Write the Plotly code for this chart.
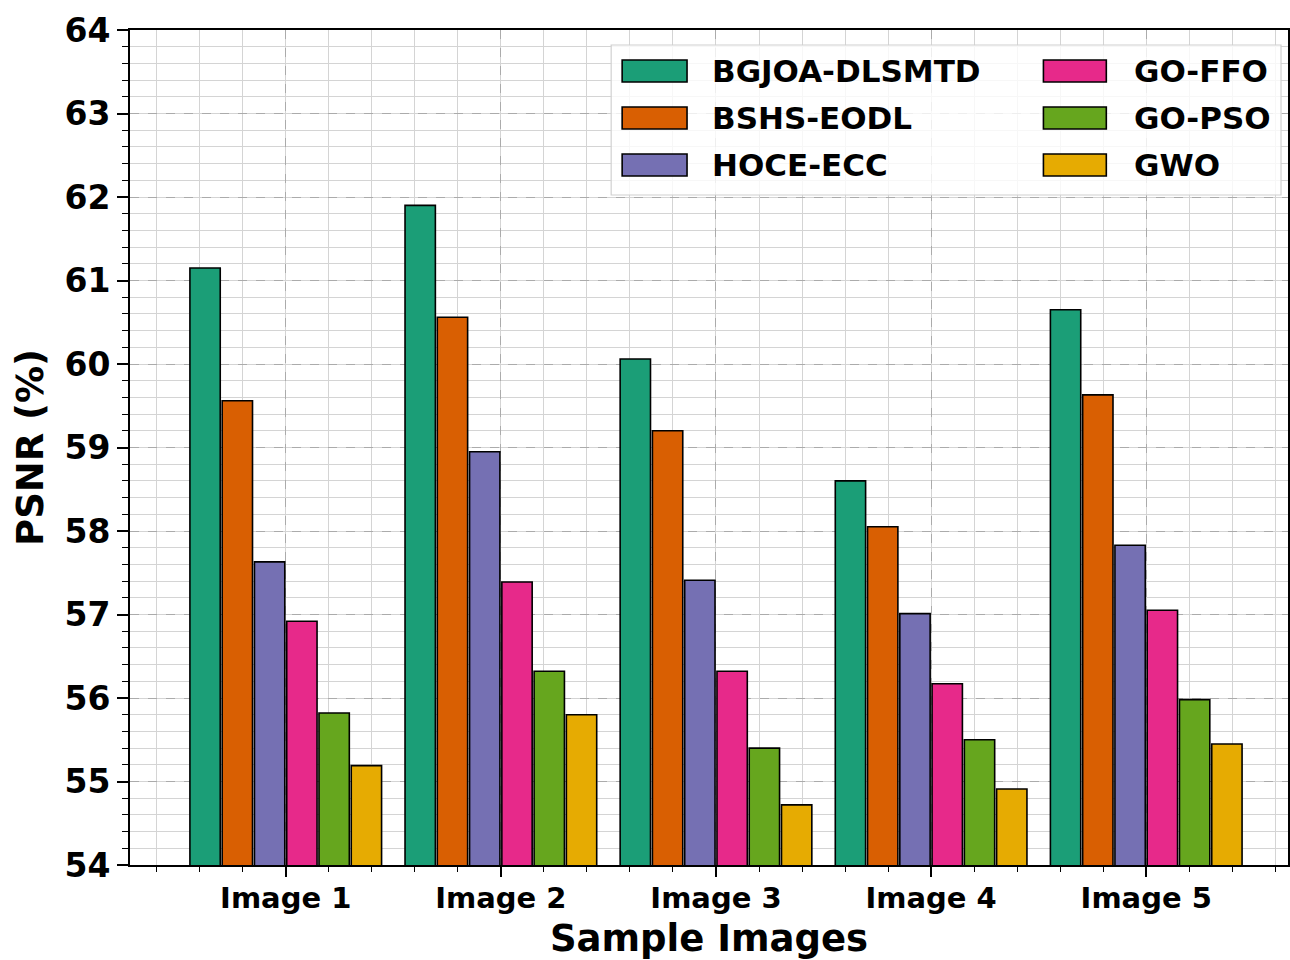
import plotly.graph_objects as go

categories = ["Image 1", "Image 2", "Image 3", "Image 4", "Image 5"]
series_names = ["BGJOA-DLSMTD", "BSHS-EODL", "HOCE-ECC", "GO-FFO", "GO-PSO", "GWO"]
bgjoa_dlsmtd = [61.15, 61.90, 60.06, 58.60, 60.65]
bshs_eodl = [59.56, 60.56, 59.20, 58.05, 59.63]
hoce_ecc = [57.63, 58.95, 57.41, 57.01, 57.83]
go_ffo = [56.92, 57.39, 56.32, 56.17, 57.05]
go_pso = [55.82, 56.32, 55.40, 55.50, 55.98]
gwo = [55.19, 55.80, 54.72, 54.91, 55.45]
colors = ["#1b9e77", "#d95f02", "#7570b3", "#e7298a", "#66a61e", "#e6ab02"]
y_ticks = [54, 55, 56, 57, 58, 59, 60, 61, 62, 63, 64]

series_values = [bgjoa_dlsmtd, bshs_eodl, hoce_ecc, go_ffo, go_pso, gwo]
xpos = list(range(len(categories)))

W, H = 1290, 960
L, R, T, B = 130, 0, 30, 95
PW, PH = W - L - R, H - T - B

def px(x):
    return (x - L) / PW

def py(y):
    return (H - B - y) / PH

FONT = "DejaVu Sans"

fig = go.Figure()
for name, vals, col in zip(series_names, series_values, colors):
    fig.add_trace(go.Bar(
        x=xpos, y=vals, name=name, showlegend=False,
        marker=dict(color=col, line=dict(color="black", width=1.6)),
    ))

# manual legend (two columns, wide patches like the reference)
shapes = [dict(type="rect", xref="paper", yref="paper", layer="above",
               x0=px(612), x1=px(1283), y0=py(195), y1=py(45),
               fillcolor="rgba(255,255,255,0.8)", line=dict(color="#d0d0d0", width=1.2))]
annotations = []
row_y = [71, 118, 165]
for i, (name, col) in enumerate(zip(series_names, colors)):
    c, r = divmod(i, 3)
    sx0, sx1, tx = (623, 688, 711) if c == 0 else (1045, 1108, 1134)
    yc = row_y[r]
    shapes.append(dict(type="rect", xref="paper", yref="paper", layer="above",
                       x0=px(sx0), x1=px(sx1), y0=py(yc + 11), y1=py(yc - 11),
                       fillcolor=col, line=dict(color="black", width=1.6)))
    annotations.append(dict(xref="paper", yref="paper", x=px(tx), y=py(yc),
                            xanchor="left", yanchor="middle", showarrow=False,
                            text=name, font=dict(family=FONT, size=31, color="black", weight="bold")))

fig.update_layout(
    width=W, height=H,
    margin=dict(l=L, r=R, t=T, b=B, pad=0),
    paper_bgcolor="white", plot_bgcolor="white",
    barmode="group", bargap=0.1, bargroupgap=0.06,
    shapes=shapes, annotations=annotations,
    font=dict(family=FONT, color="black"),
)
fig.update_xaxes(
    range=[-0.724, 4.659],
    tickmode="array", tickvals=xpos, ticktext=categories,
    tickfont=dict(family=FONT, size=29, color="black", weight="bold"),
    ticks="outside", ticklen=10, tickwidth=1.5, tickcolor="black",
    ticklabelstandoff=-4,
    showline=True, linecolor="black", linewidth=1.8, mirror=True,
    showgrid=True, gridcolor="#ababab", gridwidth=1.2, griddash="dash",
    minor=dict(dtick=0.2, tick0=0, ticks="outside", ticklen=5, tickwidth=1.2,
               tickcolor="black", showgrid=True, gridcolor="#d4d4d4", gridwidth=1,
               griddash="solid"),
    title=dict(text="Sample Images", standoff=11,
               font=dict(family=FONT, size=37, color="black", weight="bold")),
    zeroline=False,
)
fig.update_yaxes(
    range=[54, 64],
    tickmode="array", tickvals=y_ticks,
    tickfont=dict(family=FONT, size=33, color="black", weight="bold"),
    ticks="outside", ticklen=11, tickwidth=1.5, tickcolor="black",
    showline=True, linecolor="black", linewidth=1.8, mirror=True,
    showgrid=True, gridcolor="#ababab", gridwidth=1.2, griddash="dash",
    minor=dict(dtick=0.2, tick0=54, ticks="outside", ticklen=6, tickwidth=1.2,
               tickcolor="black", showgrid=True, gridcolor="#d4d4d4", gridwidth=1,
               griddash="solid"),
    title=dict(text="PSNR (%)", standoff=10,
               font=dict(family=FONT, size=37, color="black", weight="bold")),
    zeroline=False,
)

fig.write_html("out.html", config={"displayModeBar": False},
               post_script="document.body.style.margin='0px';")
